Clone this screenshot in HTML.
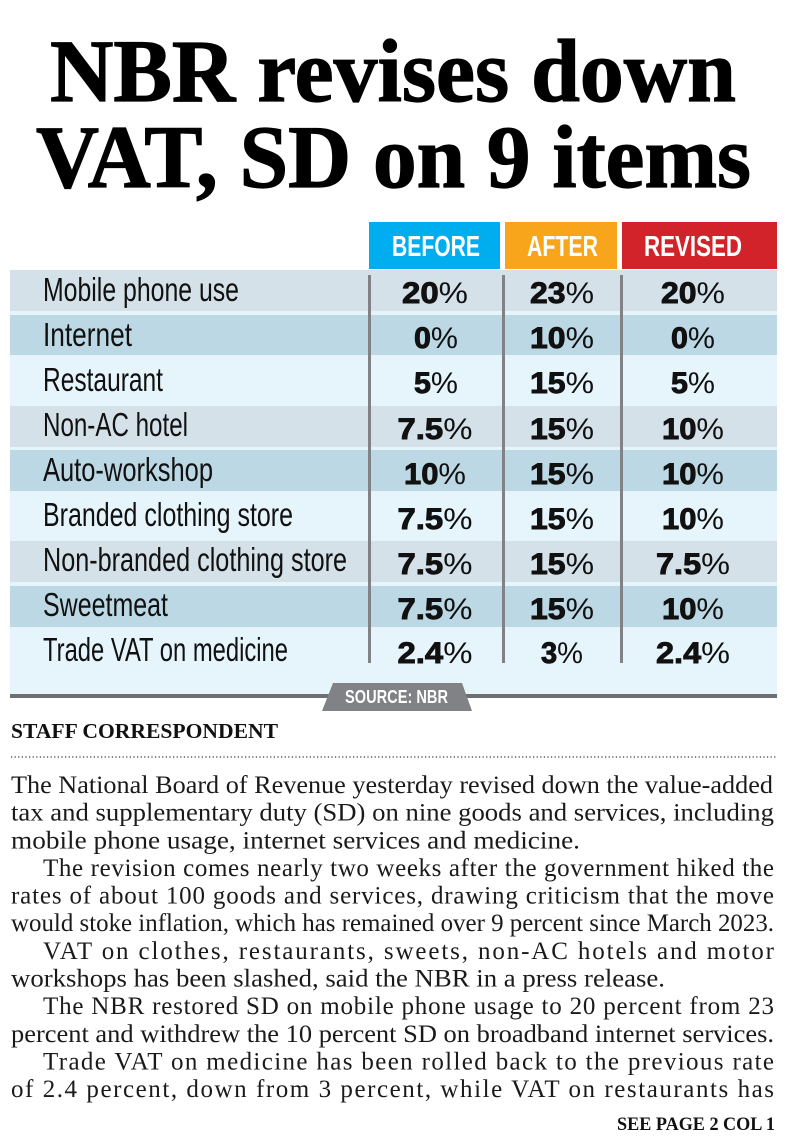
<!DOCTYPE html>
<html><head><meta charset="utf-8"><style>
html,body{margin:0;padding:0;background:#fff;}
svg{display:block;}
</style></head><body>
<svg width="787" height="1148" viewBox="0 0 787 1148" xmlns="http://www.w3.org/2000/svg">
<rect width="787" height="1148" fill="#fff"/>
<!-- Title -->
<g font-family="'Liberation Serif', serif" font-weight="700" font-size="89" fill="#000" stroke="#000" stroke-width="1.2">
<text x="50" y="101" textLength="686" lengthAdjust="spacingAndGlyphs">NBR revises down</text>
<text x="36" y="187" textLength="715" lengthAdjust="spacingAndGlyphs">VAT, SD on 9 items</text>
</g>
<!-- Header boxes -->
<rect x="369" y="222" width="131" height="47" fill="#00aeef"/>
<rect x="505" y="222" width="112" height="47" fill="#f9a51b"/>
<rect x="622" y="222" width="155" height="47" fill="#d2232a"/>
<g font-family="'Liberation Sans', sans-serif" font-weight="700" font-size="29" fill="#fff">
<text x="392" y="256" textLength="88" lengthAdjust="spacingAndGlyphs">BEFORE</text>
<text x="527" y="256" textLength="71" lengthAdjust="spacingAndGlyphs">AFTER</text>
<text x="644" y="256" textLength="98" lengthAdjust="spacingAndGlyphs">REVISED</text>
</g>
<!-- Table background -->
<rect x="10" y="270" width="767" height="424" fill="#e6f4fb"/>
<rect x="10" y="270" width="767" height="41" fill="#d4e1e9"/>
<rect x="10" y="315" width="767" height="40" fill="#bcd8e4"/>
<rect x="10" y="406" width="767" height="41" fill="#d4e1e9"/>
<rect x="10" y="450" width="767" height="41" fill="#bcd8e4"/>
<rect x="10" y="541" width="767" height="41" fill="#d4e1e9"/>
<rect x="10" y="586" width="767" height="41" fill="#bcd8e4"/>
<!-- separators -->
<rect x="368" y="275" width="3" height="388" fill="#808285"/>
<rect x="502" y="275" width="3" height="388" fill="#808285"/>
<rect x="620" y="275" width="3" height="388" fill="#808285"/>
<!-- Labels -->
<g font-family="'Liberation Sans', sans-serif" font-size="33" fill="#111">
<text x="43" y="301" textLength="196" lengthAdjust="spacingAndGlyphs">Mobile phone use</text>
<text x="43" y="346" textLength="89" lengthAdjust="spacingAndGlyphs">Internet</text>
<text x="43" y="391" textLength="120" lengthAdjust="spacingAndGlyphs">Restaurant</text>
<text x="43" y="436" textLength="145" lengthAdjust="spacingAndGlyphs">Non-AC hotel</text>
<text x="43" y="481" textLength="170" lengthAdjust="spacingAndGlyphs">Auto-workshop</text>
<text x="43" y="526" textLength="250" lengthAdjust="spacingAndGlyphs">Branded clothing store</text>
<text x="43" y="571" textLength="304" lengthAdjust="spacingAndGlyphs">Non-branded clothing store</text>
<text x="43" y="616" textLength="125" lengthAdjust="spacingAndGlyphs">Sweetmeat</text>
<text x="43" y="661" textLength="245" lengthAdjust="spacingAndGlyphs">Trade VAT on medicine</text>
</g>
<!-- Numbers -->
<g font-family="'Liberation Sans', sans-serif" font-size="30" fill="#111" text-anchor="middle">
<text x="435" y="303" textLength="66" lengthAdjust="spacingAndGlyphs"><tspan font-weight="700" stroke="#111" stroke-width="0.9">20</tspan><tspan>%</tspan></text>
<text x="562" y="303" textLength="64" lengthAdjust="spacingAndGlyphs"><tspan font-weight="700" stroke="#111" stroke-width="0.9">23</tspan><tspan>%</tspan></text>
<text x="693" y="303" textLength="64" lengthAdjust="spacingAndGlyphs"><tspan font-weight="700" stroke="#111" stroke-width="0.9">20</tspan><tspan>%</tspan></text>
<text x="436" y="348" textLength="44" lengthAdjust="spacingAndGlyphs"><tspan font-weight="700" stroke="#111" stroke-width="0.9">0</tspan><tspan>%</tspan></text>
<text x="562" y="348" textLength="64" lengthAdjust="spacingAndGlyphs"><tspan font-weight="700" stroke="#111" stroke-width="0.9">10</tspan><tspan>%</tspan></text>
<text x="693" y="348" textLength="44" lengthAdjust="spacingAndGlyphs"><tspan font-weight="700" stroke="#111" stroke-width="0.9">0</tspan><tspan>%</tspan></text>
<text x="436" y="393" textLength="44" lengthAdjust="spacingAndGlyphs"><tspan font-weight="700" stroke="#111" stroke-width="0.9">5</tspan><tspan>%</tspan></text>
<text x="562" y="393" textLength="64" lengthAdjust="spacingAndGlyphs"><tspan font-weight="700" stroke="#111" stroke-width="0.9">15</tspan><tspan>%</tspan></text>
<text x="693" y="393" textLength="44" lengthAdjust="spacingAndGlyphs"><tspan font-weight="700" stroke="#111" stroke-width="0.9">5</tspan><tspan>%</tspan></text>
<text x="435" y="439" textLength="75" lengthAdjust="spacingAndGlyphs"><tspan font-weight="700" stroke="#111" stroke-width="0.9">7.5</tspan><tspan>%</tspan></text>
<text x="562" y="439" textLength="64" lengthAdjust="spacingAndGlyphs"><tspan font-weight="700" stroke="#111" stroke-width="0.9">15</tspan><tspan>%</tspan></text>
<text x="693" y="439" textLength="62" lengthAdjust="spacingAndGlyphs"><tspan font-weight="700" stroke="#111" stroke-width="0.9">10</tspan><tspan>%</tspan></text>
<text x="435" y="484" textLength="62" lengthAdjust="spacingAndGlyphs"><tspan font-weight="700" stroke="#111" stroke-width="0.9">10</tspan><tspan>%</tspan></text>
<text x="562" y="484" textLength="64" lengthAdjust="spacingAndGlyphs"><tspan font-weight="700" stroke="#111" stroke-width="0.9">15</tspan><tspan>%</tspan></text>
<text x="693" y="484" textLength="62" lengthAdjust="spacingAndGlyphs"><tspan font-weight="700" stroke="#111" stroke-width="0.9">10</tspan><tspan>%</tspan></text>
<text x="435" y="529" textLength="75" lengthAdjust="spacingAndGlyphs"><tspan font-weight="700" stroke="#111" stroke-width="0.9">7.5</tspan><tspan>%</tspan></text>
<text x="562" y="529" textLength="64" lengthAdjust="spacingAndGlyphs"><tspan font-weight="700" stroke="#111" stroke-width="0.9">15</tspan><tspan>%</tspan></text>
<text x="693" y="529" textLength="62" lengthAdjust="spacingAndGlyphs"><tspan font-weight="700" stroke="#111" stroke-width="0.9">10</tspan><tspan>%</tspan></text>
<text x="435" y="574" textLength="75" lengthAdjust="spacingAndGlyphs"><tspan font-weight="700" stroke="#111" stroke-width="0.9">7.5</tspan><tspan>%</tspan></text>
<text x="562" y="574" textLength="64" lengthAdjust="spacingAndGlyphs"><tspan font-weight="700" stroke="#111" stroke-width="0.9">15</tspan><tspan>%</tspan></text>
<text x="693" y="574" textLength="74" lengthAdjust="spacingAndGlyphs"><tspan font-weight="700" stroke="#111" stroke-width="0.9">7.5</tspan><tspan>%</tspan></text>
<text x="435" y="619" textLength="75" lengthAdjust="spacingAndGlyphs"><tspan font-weight="700" stroke="#111" stroke-width="0.9">7.5</tspan><tspan>%</tspan></text>
<text x="562" y="619" textLength="64" lengthAdjust="spacingAndGlyphs"><tspan font-weight="700" stroke="#111" stroke-width="0.9">15</tspan><tspan>%</tspan></text>
<text x="693" y="619" textLength="62" lengthAdjust="spacingAndGlyphs"><tspan font-weight="700" stroke="#111" stroke-width="0.9">10</tspan><tspan>%</tspan></text>
<text x="435" y="663" textLength="75" lengthAdjust="spacingAndGlyphs"><tspan font-weight="700" stroke="#111" stroke-width="0.9">2.4</tspan><tspan>%</tspan></text>
<text x="562" y="663" textLength="42" lengthAdjust="spacingAndGlyphs"><tspan font-weight="700" stroke="#111" stroke-width="0.9">3</tspan><tspan>%</tspan></text>
<text x="693" y="663" textLength="74" lengthAdjust="spacingAndGlyphs"><tspan font-weight="700" stroke="#111" stroke-width="0.9">2.4</tspan><tspan>%</tspan></text>
</g>
<!-- bottom bar and source tab -->
<rect x="10" y="694" width="767" height="4" fill="#6d6e71"/>
<polygon points="322,711 333,683 462,683 472,711" fill="#808285"/>
<text x="345" y="703" font-family="'Liberation Sans', sans-serif" font-weight="700" font-size="18" fill="#fff" textLength="103" lengthAdjust="spacingAndGlyphs">SOURCE: NBR</text>
<!-- byline -->
<text x="11" y="738" font-family="'Liberation Serif', serif" font-weight="700" font-size="21" fill="#111" textLength="267" lengthAdjust="spacingAndGlyphs">STAFF CORRESPONDENT</text>
<line x1="11" y1="757" x2="777" y2="757" stroke="#333" stroke-width="1.3" stroke-dasharray="1.2 2.4"/>
<!-- body -->
<g font-family="'Liberation Serif', serif" font-size="25" fill="#1a1a1a">
<text x="11" y="793" textLength="762" lengthAdjust="spacingAndGlyphs">The National Board of Revenue yesterday revised down the value-added</text>
<text x="11" y="820.6" textLength="763" lengthAdjust="spacingAndGlyphs">tax and supplementary duty (SD) on nine goods and services, including</text>
<text x="11" y="848.3" textLength="569" lengthAdjust="spacingAndGlyphs">mobile phone usage, internet services and medicine.</text>
<text x="43" y="875.9" textLength="731" lengthAdjust="spacing">The revision comes nearly two weeks after the government hiked the</text>
<text x="11" y="903.6" textLength="763" lengthAdjust="spacing">rates of about 100 goods and services, drawing criticism that the move</text>
<text x="11" y="931.2" textLength="763" lengthAdjust="spacingAndGlyphs">would stoke inflation, which has remained over 9 percent since March 2023.</text>
<text x="43" y="958.8" textLength="731" lengthAdjust="spacing">VAT on clothes, restaurants, sweets, non-AC hotels and motor</text>
<text x="11" y="986.5" textLength="654" lengthAdjust="spacingAndGlyphs">workshops has been slashed, said the NBR in a press release.</text>
<text x="43" y="1014.1" textLength="731" lengthAdjust="spacing">The NBR restored SD on mobile phone usage to 20 percent from 23</text>
<text x="11" y="1041.8" textLength="763" lengthAdjust="spacingAndGlyphs">percent and withdrew the 10 percent SD on broadband internet services.</text>
<text x="43" y="1069.4" textLength="731" lengthAdjust="spacing">Trade VAT on medicine has been rolled back to the previous rate</text>
<text x="11" y="1097" textLength="763" lengthAdjust="spacing">of 2.4 percent, down from 3 percent, while VAT on restaurants has</text>
</g>
<text x="617" y="1130" font-family="'Liberation Serif', serif" font-weight="700" font-size="19" fill="#111" textLength="158" lengthAdjust="spacingAndGlyphs">SEE PAGE 2 COL 1</text>
</svg>
</body></html>
